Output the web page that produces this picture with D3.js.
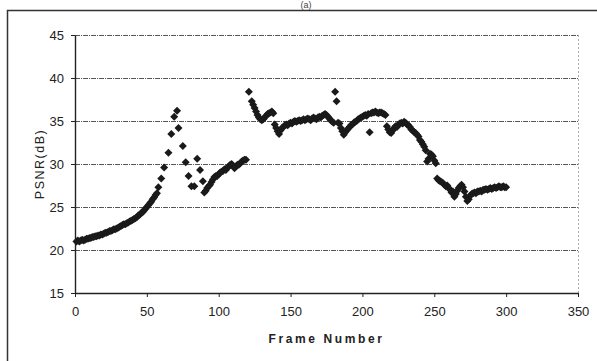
<!DOCTYPE html>
<html><head><meta charset="utf-8">
<script src="https://cdn.jsdelivr.net/npm/d3@7"></script>
<style>body{margin:0;background:#fff} svg{display:block} text{font-family:"Liberation Sans",Arial,sans-serif}</style>
</head><body><svg id="c" width="597" height="361"></svg><script>
const frames = [
  1,2,3,4,5,6,7,8,9,10, 11,12,13,14,15,16,17,18,19,20, 21,22,23,24,25,26,27,28,29,30,
  31,32,33,34,35,36,37,38,39,40, 41,42,43,44,45,46,47,48,49,50, 51,52,53,54,55,56,
  57,58,60,62,65,67,69,71,72,75,77,79,81,83,85,87,89,
  90,91,92,93,94,95,96,97,98,99, 100,101,102,103,104,105,106,107,108,109, 110,111,112,113,114,115,116,117,118,119,
  121,123,124,125,126,127,128,129,130,131,132,133,134,135,136,137,138,
  139,140,141,142,143,144,145,146,147,148, 149,150,151,152,153,154,155,156,157,158,
  159,160,161,162,163,164,165,166,167,168, 169,170,171,172,173,174,175,176,177,178,
  179,180,181,182,183,184,185,186,187,188, 189,190,191,192,193,194,195,196,197,198,
  199,200,201,202,203,204,205,206,207,208, 209,210,211,212,213,214,215,216,217,218,
  219,220,221,222,223,224,225,226,227,228, 229,230,231,232,233,234,235,236,237,238,
  239,240,241,242,243,244,245,246,247,248, 249,250,251,252,253,254,255,256,257,258,
  259,260,261,262,263,264,265,266,267,268, 269,270,271,272,273,274,275,276,277,278,
  279,280,281,282,283,284,285,286,287,288, 289,290,291,292,293,294,295,296,297,298,
  299,300
];
const psnr = [
  21.0,21.1,21.0,21.1,21.2,21.1,21.2,21.3,21.3,21.4, 21.4,21.5,21.5,21.6,21.6,21.7,21.7,21.8,21.8,21.9, 22.0,22.0,22.1,22.2,22.2,22.3,22.4,22.4,22.5,22.6,
  22.7,22.8,22.9,23.0,23.0,23.1,23.2,23.3,23.4,23.5, 23.6,23.7,23.8,24.0,24.1,24.3,24.4,24.6,24.8,25.0, 25.2,25.4,25.6,25.9,26.1,26.4,
  26.6,27.3,28.3,29.6,31.3,33.5,35.5,36.2,34.2,32.1,30.2,28.6,27.4,27.4,30.6,29.3,28.0,
  26.7,26.9,27.2,27.4,27.6,27.9,28.2,28.5,28.6,28.6, 28.8,29.0,29.1,29.2,29.4,29.3,29.6,29.7,29.9,30.0, 29.8,29.5,29.7,29.9,29.9,30.1,30.3,30.4,30.5,30.5,
  38.4,37.3,36.9,36.5,36.1,35.7,35.4,35.2,35.1,35.2,35.4,35.6,35.8,35.9,36.0,36.1,35.9,
  34.6,34.2,33.8,33.5,33.9,34.2,34.3,34.5,34.6,34.5, 34.7,34.8,34.7,34.9,35.0,34.9,35.0,35.1,35.0,35.1,
  35.2,35.1,35.2,35.3,35.2,35.1,35.3,35.4,35.3,35.2, 35.4,35.5,35.4,35.6,35.7,35.8,35.7,35.5,35.3,35.1,
  34.9,34.8,38.4,37.3,34.8,34.7,34.2,33.8,33.4,33.7, 33.9,34.1,34.3,34.5,34.6,34.8,34.9,35.0,35.2,35.3,
  35.4,35.5,35.6,35.7,35.6,35.8,33.7,35.9,36.0,36.0, 36.1,36.0,35.9,36.0,36.0,35.9,35.8,35.7,34.4,34.0,
  33.7,33.6,33.9,34.2,34.4,34.3,34.6,34.7,34.8,34.7, 34.9,34.8,34.6,34.5,34.3,34.0,33.9,33.7,33.6,33.4,
  33.2,32.8,32.6,32.3,32.0,31.6,30.3,30.6,31.2,31.1, 30.9,30.4,30.1,28.3,28.1,28.0,27.9,27.8,27.6,27.4,
  27.5,27.2,27.0,26.7,26.8,26.2,26.5,26.9,27.2,27.4, 27.6,27.3,26.8,26.2,25.7,25.9,26.3,26.5,26.6,26.7,
  26.6,26.8,26.8,26.9,26.8,27.0,27.0,27.1,27.0,27.1, 27.2,27.1,27.2,27.3,27.2,27.3,27.4,27.3,27.3,27.4,
  27.3,27.3
];
const xTicks = [0,50,100,150,200,250,300,350];
const yTicks = [15,20,25,30,35,40,45];
const xTitle = "Frame Number";
const yTitle = "PSNR(dB)";
const panelTitle = "(a)";

const svg = d3.select("#c");
const M = {l:75, r:578, t:35, b:293};
const x = d3.scaleLinear().domain([0,350]).range([M.l, M.r]);
const y = d3.scaleLinear().domain([15,45]).range([M.b, M.t]);

svg.append("rect").attr("width",597).attr("height",361).attr("fill","#fff");
// outer frame
svg.append("rect").attr("x",7.5).attr("y",10.5).attr("width",700).attr("height",500)
  .attr("fill","none").attr("stroke","#333").attr("stroke-width",1.5);
svg.append("text").attr("x",306).attr("y",8).attr("text-anchor","middle")
  .attr("font-size",9).attr("fill","#444").text(panelTitle);

// gridlines
svg.append("g").selectAll("line").data(yTicks.filter(v => v > 15)).join("line")
  .attr("x1",M.l).attr("x2",M.r).attr("y1",d=>Math.round(y(d))+0.5).attr("y2",d=>Math.round(y(d))+0.5)
  .attr("stroke","#555").attr("stroke-width",1).attr("stroke-dasharray","5,1,1,1");
// right border dotted
svg.append("line").attr("x1",M.r+0.5).attr("x2",M.r+0.5).attr("y1",M.t).attr("y2",M.b)
  .attr("stroke","#aaa").attr("stroke-dasharray","2,2");

// axes
const ya = svg.append("g").attr("transform",`translate(${M.l},0)`)
  .call(d3.axisLeft(y).tickValues(yTicks).tickSize(4).tickSizeOuter(0).tickPadding(7));
const xa = svg.append("g").attr("transform",`translate(0,${M.b})`)
  .call(d3.axisBottom(x).tickValues(xTicks).tickSize(4).tickSizeOuter(0).tickPadding(10));
[ya, xa].forEach(g => {
  g.selectAll("path.domain").attr("stroke","#222").attr("stroke-width",1.4);
  g.selectAll(".tick line").attr("stroke","#222");
  g.selectAll(".tick text").attr("font-size",13).attr("fill","#222")
    .attr("font-family","'Liberation Sans',Arial,sans-serif");
});

// titles
svg.append("text").attr("x",(M.l+M.r)/2).attr("y",343).attr("text-anchor","middle")
  .attr("font-size",12).attr("font-weight","bold").attr("letter-spacing","2.6px").attr("fill","#222").text(xTitle);
svg.append("text").attr("transform",`translate(44,${(M.t+M.b)/2}) rotate(-90)`).attr("text-anchor","middle")
  .attr("font-size",12.5).attr("letter-spacing","1.5px").attr("fill","#222").text(yTitle);

// markers
const pts = frames.map((f,i) => ({f, v: psnr[i]}));
const r = 4;
const diamond = `M0,${-r}L${r},0L0,${r}L${-r},0Z`;
svg.append("g").selectAll("path").data(pts).join("path")
  .attr("d", diamond)
  .attr("transform", d => `translate(${x(d.f)},${y(d.v)})`)
  .attr("fill","#1a1a1a");
</script></body></html>
